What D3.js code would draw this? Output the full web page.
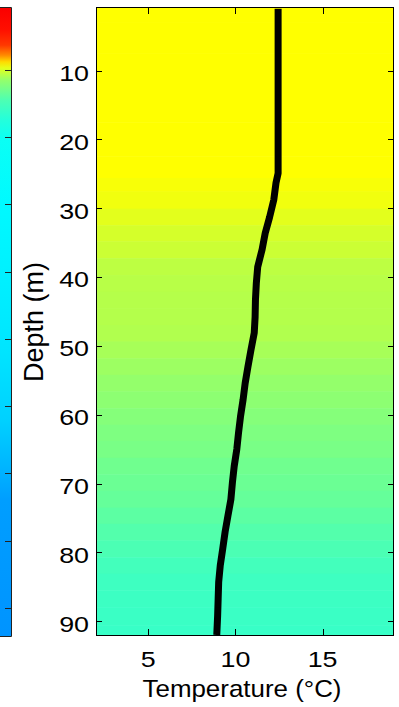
<!DOCTYPE html>
<html><head><meta charset="utf-8">
<script src="https://cdn.jsdelivr.net/npm/d3@7"></script>
<style>body{margin:0;background:#fff}svg{display:block}text{font-family:"Liberation Sans",Arial,sans-serif;fill:#000}</style>
</head><body><svg id="c" width="399" height="707"></svg>
<script>
// Temperature profile (depth in m, temperature in °C)
const depths = [1, 5, 10, 15, 20, 24.9, 26.3, 28.8, 31.3, 33.6, 36, 38.5, 40.9, 43.3, 45.8, 48.1, 50.6, 53, 55.4, 57.8, 60.3, 62.6, 65, 67.5, 69.8, 72.3, 74.7, 77, 79.5, 81.9, 84.3, 86.7, 89.2, 92];
const temps  = [12.45, 12.45, 12.45, 12.45, 12.45, 12.45, 12.33, 12.2, 11.96, 11.71, 11.53, 11.28, 11.2, 11.15, 11.13, 11.08, 10.89, 10.72, 10.56, 10.44, 10.29, 10.18, 10.08, 9.93, 9.83, 9.74, 9.57, 9.41, 9.27, 9.13, 9.04, 9.01, 8.98, 8.93];
const xTicks = [5, 10, 15];
const yTicks = [10, 20, 30, 40, 50, 60, 70, 80, 90];
// Neighbouring (cut-off) panel on the left: colour level by depth
const nbDepths = [0.8, 4, 6.3, 7.8, 8.8, 9.7, 11.5, 14.5, 17.4, 20.4, 29.3, 41.2, 51.6, 62, 69.5, 73.9, 94];
const nbLevels = [0.88, 0.86, 0.82, 0.74, 0.66, 0.6, 0.52, 0.45, 0.41, 0.385, 0.37, 0.36, 0.35, 0.33, 0.3, 0.28, 0.27];
const nbTicks = [10, 20, 30, 40, 50, 60, 70, 80, 90];

const svg = d3.select("#c");
const L = 96, R = 394, T = 8, B = 635;
const x = d3.scaleLinear().domain([2, 19.1]).range([L, R]);
const y = d3.scaleLinear().domain([0.9, 92]).range([T, B]);
const cval = d3.scaleLinear().domain([1.2, 19.2]).range([0, 1]);
function jet(t){
  const c = v => Math.max(0, Math.min(1, v));
  return d3.rgb(255*c(1.5-Math.abs(4*t-3)), 255*c(1.5-Math.abs(4*t-2)), 255*c(1.5-Math.abs(4*t-1))).toString();
}
function bands(ds){
  return ds.map((d,i)=>({
    a: i===0 ? -1e3 : (ds[i-1]+d)/2,
    b: i===ds.length-1 ? 1e3 : (d+ds[i+1])/2, i}));
}

// neighbour panel (smooth gradient)
const ny = d3.scaleLinear().domain([0.78, 94.2]).range([8, 636]);
const grad = svg.append("defs").append("linearGradient").attr("id","ngrad")
  .attr("gradientUnits","userSpaceOnUse").attr("x1",0).attr("x2",0).attr("y1",8).attr("y2",636);
nbDepths.forEach((d,i)=>{
  grad.append("stop").attr("offset",(ny(d)-8)/628).attr("stop-color",jet(nbLevels[i]));
});
svg.append("rect").attr("x",0).attr("y",8).attr("width",11).attr("height",628).attr("fill","url(#ngrad)");
svg.selectAll(".nt").data(nbTicks).join("line").attr("class","nt")
  .attr("x1",5).attr("x2",11).attr("y1",d=>Math.round(ny(d))+0.5).attr("y2",d=>Math.round(ny(d))+0.5)
  .attr("stroke","#222");
svg.append("path").attr("d","M0,7.5H11.5V636.5H0").attr("fill","none").attr("stroke","#222");

// main background
svg.append("clipPath").attr("id","clip").append("rect").attr("x",L).attr("y",T).attr("width",R-L).attr("height",B-T);
const g = svg.append("g").attr("clip-path","url(#clip)");
g.selectAll("rect").data(bands(depths)).join("rect")
  .attr("x",L).attr("width",R-L)
  .attr("y",d=>y(d.a)).attr("height",d=>y(d.b)-y(d.a)+0.5)
  .attr("fill",d=>jet(cval(temps[d.i])));
g.append("path").datum(depths.map((d,i)=>[temps[i],d]))
  .attr("d", d3.line().x(d=>x(d[0])).y(d=>y(d[1])))
  .attr("fill","none").attr("stroke","#000").attr("stroke-width",7).attr("stroke-linejoin","round");

// ticks inside box
const tl = 6;
const tg = svg.append("g").attr("stroke","#000").attr("stroke-width",1);
yTicks.forEach(v=>{
  const yy = Math.round(y(v))+0.5;
  tg.append("line").attr("x1",L).attr("x2",L+tl).attr("y1",yy).attr("y2",yy);
  tg.append("line").attr("x1",R-tl).attr("x2",R).attr("y1",yy).attr("y2",yy);
});
xTicks.forEach(v=>{
  const xx = Math.round(x(v))+0.5;
  tg.append("line").attr("x1",xx).attr("x2",xx).attr("y1",T).attr("y2",T+tl);
  tg.append("line").attr("x1",xx).attr("x2",xx).attr("y1",B-tl).attr("y2",B);
});
svg.append("rect").attr("x",L+0.5).attr("y",T-0.5).attr("width",R-L-1).attr("height",B-T+1)
  .attr("fill","none").attr("stroke","#000");

// tick labels
svg.selectAll(".yl").data(yTicks).join("text").attr("class","yl")
  .attr("transform",d=>`translate(89,${y(d)+10.3}) scale(1.22,1)`)
  .attr("text-anchor","end").attr("font-size",22).text(d=>d);
svg.selectAll(".xl").data(xTicks).join("text").attr("class","xl")
  .attr("transform",d=>`translate(${x(d)},667) scale(1.22,1)`)
  .attr("text-anchor","middle").attr("font-size",22).text(d=>d);

// axis titles
svg.append("text").attr("transform","translate(242,697) scale(1.08,1)")
  .attr("text-anchor","middle").attr("font-size",24).text("Temperature (°C)");
svg.append("text").attr("transform","translate(43,322) rotate(-90)")
  .attr("text-anchor","middle").attr("font-size",27).text("Depth (m)");
</script></body></html>
